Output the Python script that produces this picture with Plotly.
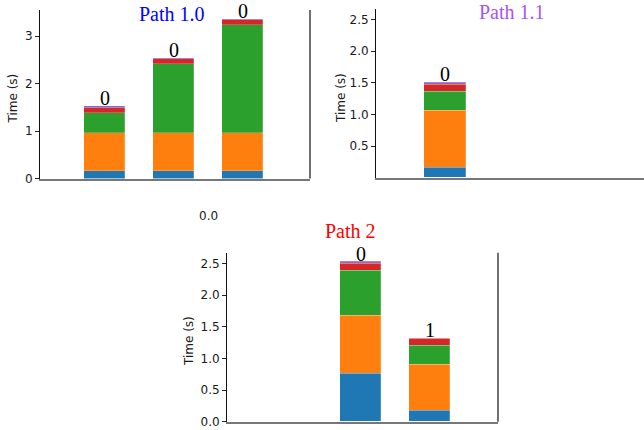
import plotly.graph_objects as go

W, H = 644, 430

components = ["c0", "c1", "c2", "c3", "c4"]
colors = ["#1f77b4", "#ff7f0e", "#2ca02c", "#d62728", "#9467bd"]

# Path 1.0
p10_x = [0, 1, 2]
p10_vals = [
    [0.155, 0.155, 0.155],
    [0.805, 0.805, 0.805],
    [0.42, 1.45, 2.27],
    [0.11, 0.10, 0.11],
    [0.035, 0.02, 0.03],
]
p10_labels = ["0", "0", "0"]

# Path 1.1
p11_x = [0]
p11_vals = [
    [0.158],
    [0.912],
    [0.30],
    [0.11],
    [0.03],
]
p11_labels = ["0"]

# Path 2
p2_x = [1, 2]
p2_vals = [
    [0.753, 0.17],
    [0.917, 0.725],
    [0.715, 0.31],
    [0.105, 0.11],
    [0.03, 0.0],
]
p2_labels = ["0", "1"]

fig = go.Figure()

def px_x(x):
    return x / W

def px_y(y):
    return 1 - y / H

panels = [
    ("x", "y", p10_x, p10_vals, p10_labels),
    ("x2", "y2", p11_x, p11_vals, p11_labels),
    ("x3", "y3", p2_x, p2_vals, p2_labels),
]

for xa, ya, xs, vals, labels in panels:
    for i, comp in enumerate(components):
        fig.add_trace(go.Bar(
            x=xs, y=vals[i], xaxis=xa, yaxis=ya, width=0.6,
            marker=dict(color=colors[i], line=dict(width=0.6, color="rgba(255,255,255,0.35)")),
            name=comp, showlegend=False,
        ))
    totals = [sum(v[j] for v in vals) for j in range(len(xs))]
    for xv, tot, lab in zip(xs, totals, labels):
        fig.add_annotation(
            x=xv, y=tot, xref=xa, yref=ya, text=lab, showarrow=False,
            yanchor="bottom", yshift=-5,
            font=dict(family="Liberation Serif", size=20, color="black"),
        )

axis_common = dict(showgrid=False, zeroline=False, automargin=False)
tickfont = dict(family="DejaVu Sans", size=12, color="#1a1a1a")
ytick = dict(ticks="outside", ticklen=4, tickcolor="#222", showline=True, linecolor="#111",
             linewidth=1, tickfont=tickfont)
xline = dict(showticklabels=False, ticks="", showline=True, linecolor="#777", linewidth=1.5)

fig.update_layout(
    width=W, height=H, margin=dict(l=0, r=0, t=0, b=0, pad=0), autosize=False,
    plot_bgcolor="white", paper_bgcolor="white",
    barmode="stack", bargap=0,
    xaxis=dict(domain=[px_x(40), px_x(310)], range=[-0.94, 2.98], **xline, **axis_common),
    yaxis=dict(domain=[px_y(178.5), px_y(10)], range=[0, 3.55], tickvals=[0, 1, 2, 3],
               anchor="x", **ytick, **axis_common),
    xaxis2=dict(domain=[px_x(376), 1.0], range=[-0.99, 2.86], anchor="y2", **xline, **axis_common),
    yaxis2=dict(domain=[px_y(177.7), px_y(9.3)], range=[0, 2.66], tickvals=[0.5, 1.0, 1.5, 2.0, 2.5],
                ticktext=["0.5", "1.0", "1.5", "2.0", "2.5"],
                anchor="x2", **ytick, **axis_common),
    xaxis3=dict(domain=[px_x(227), px_x(498)], range=[-0.94, 2.99], anchor="y3", **xline, **axis_common),
    yaxis3=dict(domain=[px_y(421.7), px_y(252.7)], range=[0, 2.67],
                tickvals=[0.0, 0.5, 1.0, 1.5, 2.0, 2.5],
                ticktext=["0.0", "0.5", "1.0", "1.5", "2.0", "2.5"],
                anchor="x3", **ytick, **axis_common),
)

# right spines
for xa, ya in [("x", "y"), ("x3", "y3")]:
    fig.add_shape(type="line", xref=f"{xa} domain", yref=f"{ya} domain",
                  x0=1, x1=1, y0=0, y1=1, line=dict(color="#111", width=1.2))

# titles
titles = [("Path 1.0", 172, 14, "#0000ff"), ("Path 1.1", 512, 12, "#a855f7"), ("Path 2", 351, 231, "#ff0000")]
for t, cx, cy, col in titles:
    fig.add_annotation(x=px_x(cx), y=px_y(cy), xref="paper", yref="paper", text=t,
                       showarrow=False, xanchor="center", yanchor="middle",
                       font=dict(family="Liberation Serif", size=20, color=col))

# y axis titles
for cx, cy in [(12, 98.5), (341, 98), (188.5, 341.5)]:
    fig.add_annotation(x=px_x(cx), y=px_y(cy), xref="paper", yref="paper", text="Time (s)",
                       textangle=-90, showarrow=False, xanchor="center", yanchor="middle",
                       font=dict(family="DejaVu Sans", size=12, color="#1a1a1a"))

# stray label
fig.add_annotation(x=px_x(208), y=px_y(216), xref="paper", yref="paper", text="0.0",
                   showarrow=False, xanchor="center", yanchor="middle",
                   font=dict(family="DejaVu Sans", size=12, color="#1a1a1a"))

fig.write_html(
    "out.html",
    config={"responsive": False, "displayModeBar": False},
    post_script=(
        "document.documentElement.style.margin='0';"
        "document.documentElement.style.overflow='hidden';"
        "document.body.style.margin='0';document.body.style.overflow='hidden';"
        "var d=document.getElementById('{plot_id}');"
        "d.style.position='fixed';d.style.top='0px';d.style.left='0px';"
    ),
)
